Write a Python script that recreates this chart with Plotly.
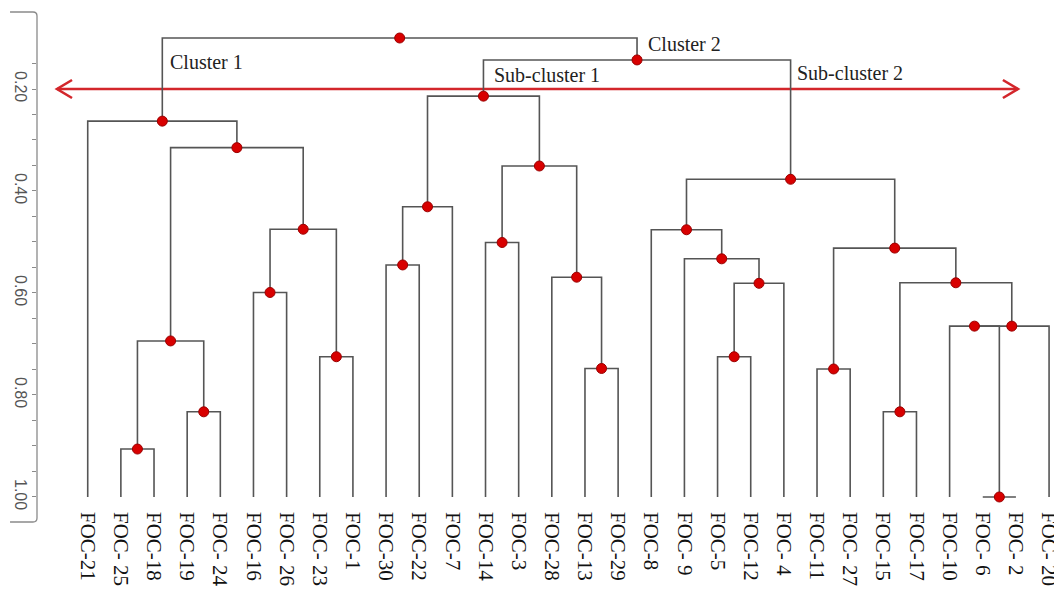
import plotly.graph_objects as go

# ---------------- data ----------------
leaf_labels = ["FOC-21", "FOC- 25", "FOC-18", "FOC-19", "FOC- 24", "FOC-16", "FOC- 26",
               "FOC- 23", "FOC-1", "FOC-30", "FOC-22", "FOC-7", "FOC-14", "FOC-3",
               "FOC-28", "FOC-13", "FOC-29", "FOC-8", "FOC- 9", "FOC-5", "FOC-12",
               "FOC- 4", "FOC-11", "FOC- 27", "FOC-15", "FOC-17", "FOC-10", "FOC- 6",
               "FOC- 2", "FOC- 20"]
leaf_level = 1.00

# merges: node id = 30 + position in these lists
merge_left = [27, 1, 3, 24, 15, 22, 7, 19, 31, 26, 39, 5, 37, 33, 14,
              9, 18, 35, 12, 41, 17, 45, 50, 48, 38, 0, 51, 56, 55]
merge_right = [28, 2, 4, 25, 16, 23, 8, 20, 32, 30, 29, 6, 21, 40, 34,
               10, 42, 43, 13, 36, 46, 11, 47, 44, 49, 54, 53, 52, 57]
merge_height = [1.000, 0.906, 0.833, 0.833, 0.748, 0.749, 0.725, 0.725, 0.694,
                0.665, 0.665, 0.599, 0.581, 0.580, 0.569, 0.545, 0.533, 0.512,
                0.501, 0.475, 0.476, 0.431, 0.377, 0.351, 0.315, 0.263, 0.214,
                0.143, 0.100]

cluster_labels = ["Cluster 1", "Cluster 2", "Sub-cluster 1", "Sub-cluster 2"]
cluster_nodes = [55, 57, 56, 52]
cluster_label_level = [0.147, 0.112, 0.1725, 0.169]
cluster_label_shift = [6, 9, 9, 4]

arrow_level = 0.20
arrow_span = [-0.926, 28.06]

y_tick_vals = [0.15, 0.20, 0.25, 0.30, 0.35, 0.40, 0.45, 0.50, 0.55, 0.60,
               0.65, 0.70, 0.75, 0.80, 0.85, 0.90, 0.95, 1.00]
y_tick_text = ["", "0.20", "", "", "", "0.40", "", "", "", "0.60",
               "", "", "", "0.80", "", "", "", "1.00"]

# ---------------- build dendrogram geometry ----------------
n = len(leaf_labels)
node_x = {i: float(i) for i in range(n)}
node_h = {i: leaf_level for i in range(n)}
lx, ly = [], []
for k, (a, b, h) in enumerate(zip(merge_left, merge_right, merge_height)):
    nid = n + k
    xa, xb = node_x[a], node_x[b]
    lx += [xa, xa, xb, xb, None]
    ly += [node_h[a], h, h, node_h[b], None]
    node_x[nid] = (xa + xb) / 2
    node_h[nid] = h

dot_x = [node_x[n + k] for k in range(len(merge_height))]
dot_y = merge_height

fig = go.Figure()

# red double arrow
PX_X = 1 / 33.15
PX_Y = 1 / 510.0
ax0, ax1 = arrow_span
head_len, head_half = 15 * PX_X, 9 * PX_Y
arr_x = [ax0, ax1, None,
         ax0 + head_len, ax0, ax0 + head_len, None,
         ax1 - head_len, ax1, ax1 - head_len]
arr_y = [arrow_level, arrow_level, None,
         arrow_level - head_half, arrow_level, arrow_level + head_half, None,
         arrow_level - head_half, arrow_level, arrow_level + head_half]
fig.add_trace(go.Scatter(x=arr_x, y=arr_y, mode="lines",
                         line=dict(color="#d3262b", width=2.6),
                         hoverinfo="skip", showlegend=False, cliponaxis=False))

fig.add_trace(go.Scatter(x=lx, y=ly, mode="lines",
                         line=dict(color="#555555", width=1.6),
                         hoverinfo="skip", showlegend=False, cliponaxis=False))

fig.add_trace(go.Scatter(x=dot_x, y=dot_y, mode="markers",
                         marker=dict(size=10, color="#d80000",
                                     line=dict(color="#9a0000", width=1)),
                         hoverinfo="skip", showlegend=False, cliponaxis=False))

for lab, nid, lev, sh in zip(cluster_labels, cluster_nodes, cluster_label_level, cluster_label_shift):
    fig.add_annotation(x=node_x[nid], y=lev, text=lab, showarrow=False,
                       xanchor="left", yanchor="middle", xshift=sh,
                       font=dict(family="Liberation Serif, Times New Roman, serif",
                                 size=20, color="#222222"))

# bracket-like y spine
fig.add_shape(type="path", xref="paper", yref="paper",
              path="M -0.0263,0.9959 L -0.0039,0.9959 Q 0,0.9959 0,0.9878 "
                   "L 0,-0.0304 Q 0,-0.0385 -0.0039,-0.0385 L -0.0263,-0.0385",
              line=dict(color="#8a8a8a", width=1.3))

# the page body adds an 8px offset, so the figure is sized to compensate
fig.update_layout(
    width=1054, height=580,
    margin=dict(l=29, r=0, t=2, b=85),
    paper_bgcolor="white", plot_bgcolor="white",
    xaxis=dict(range=[-1.53, 29.39], tickmode="array",
               tickvals=list(range(n)), ticktext=leaf_labels,
               tickangle=90, ticks="", showline=False, showgrid=False,
               zeroline=False, automargin=False, ticklabelstandoff=8,
               tickfont=dict(family="Liberation Serif, Times New Roman, serif",
                             size=21, color="#111111")),
    yaxis=dict(range=[1.0118, 0.0451], tickmode="array",
               tickvals=y_tick_vals, ticktext=y_tick_text,
               tickangle=90, ticks="outside", ticklen=4, tickcolor="#8a8a8a",
               showline=False, showgrid=False, zeroline=False, automargin=False,
               ticklabelstandoff=-2,
               tickfont=dict(family="Liberation Sans, Arial, sans-serif",
                             size=16, color="#555555")),
)

fig.write_html("out.html")
